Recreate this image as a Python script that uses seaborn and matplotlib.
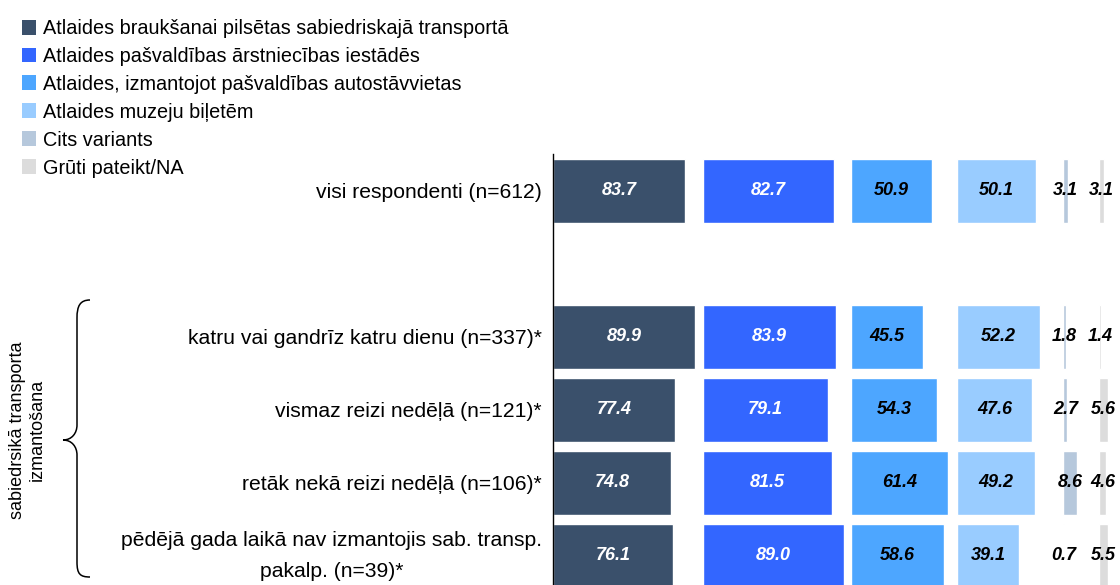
import matplotlib
matplotlib.use("Agg")
import matplotlib.pyplot as plt
from matplotlib.patches import Patch, PathPatch
from matplotlib.path import Path
import pandas as pd
import seaborn as sns

# ---------------- data ----------------
rows = [
    "visi respondenti (n=612)",
    "katru vai gandrīz katru dienu (n=337)*",
    "vismaz reizi nedēļā (n=121)*",
    "retāk nekā reizi nedēļā (n=106)*",
    "pēdējā gada laikā nav izmantojis sab. transp.\npakalp. (n=39)*",
]
gap_row = " "
series_names = [
    "Atlaides braukšanai pilsētas sabiedriskajā transportā",
    "Atlaides pašvaldības ārstniecības iestādēs",
    "Atlaides, izmantojot pašvaldības autostāvvietas",
    "Atlaides muzeju biļetēm",
    "Cits variants",
    "Grūti pateikt/NA",
]
transport = [83.7, 89.9, 77.4, 74.8, 76.1]
medical = [82.7, 83.9, 79.1, 81.5, 89.0]
parking = [50.9, 45.5, 54.3, 61.4, 58.6]
museum = [50.1, 52.2, 47.6, 49.2, 39.1]
other = [3.1, 1.8, 2.7, 8.6, 0.7]
hard_to_say = [3.1, 1.4, 5.6, 4.6, 5.5]
group_label = "sabiedrsikā transporta\nizmantošana"

series_values = [transport, medical, parking, museum, other, hard_to_say]

# ---------------- style / layout ----------------
colors = ["#3A506B", "#3366FF", "#4DA6FF", "#99CCFF", "#B6C8DC", "#DCDCDC"]
label_colors = ["white", "white", "black", "black", "black", "black"]
panel_widths = [95, 93.7, 67.1, 67.1, 22.8, 14]   # data units per panel
px_per_unit = 1.58
W, H = 1120, 585
left_px = 553
top_px, bottom_px = 154.5, 592.5

sns.set_theme(style="white")
plt.rcParams["font.family"] = ["Liberation Sans", "DejaVu Sans"]
plt.rcParams["text.color"] = "black"
plt.rcParams["ytick.color"] = "black"

fig = plt.figure(figsize=(W / 100, H / 100), dpi=100)

order = [rows[0], gap_row] + rows[1:]
x_px = left_px
for i, (name, vals) in enumerate(zip(series_names, series_values)):
    w_px = panel_widths[i] * px_per_unit
    ax = fig.add_axes([x_px / W, 1 - bottom_px / H, w_px / W, (bottom_px - top_px) / H])
    x_px += w_px
    df = pd.DataFrame({"row": rows, "value": vals})
    sns.barplot(data=df, x="value", y="row", order=order, orient="h",
                color=colors[i], saturation=1, width=0.88, errorbar=None, ax=ax)
    ax.set_xlim(0, panel_widths[i])
    ax.set_ylim(5.5, -0.5)
    ax.set_xlabel("")
    ax.set_ylabel("")
    ax.set_xticks([])
    ax.patch.set_alpha(0)
    for s in ["top", "right", "bottom"]:
        ax.spines[s].set_visible(False)
    if i == 0:
        ax.spines["left"].set_color("black")
        ax.spines["left"].set_linewidth(1.0)
        ax.tick_params(axis="y", length=0, pad=8, labelsize=15.2, colors="black")
        for lbl in ax.get_yticklabels():
            if "\n" in lbl.get_text():
                lbl.set_multialignment("center")
                lbl.set_linespacing(1.75)
                lbl.set_verticalalignment("center")
    else:
        ax.spines["left"].set_visible(False)
        ax.set_yticks([])
    for cont in ax.containers:
        ax.bar_label(cont, fmt="%.1f", label_type="center", color=label_colors[i],
                     fontsize=13, fontweight="bold", fontstyle="italic")

# legend
handles = [Patch(facecolor=c, edgecolor="none") for c in colors]
fig.legend(handles, series_names, loc="upper left", bbox_to_anchor=(22 / W, 1 - 19 / H),
           frameon=False, fontsize=14.3, handlelength=0.72, handleheight=0.78,
           handletextpad=0.33, labelspacing=0.45, borderpad=0, borderaxespad=0)

# overlay for brace and group label
ov = fig.add_axes([0, 0, 1, 1], zorder=-1)
ov.set_xlim(0, W)
ov.set_ylim(H, 0)
ov.axis("off")
verts = [(90, 300), (80, 300), (77, 306), (77, 318),
         (77, 425),
         (77, 433), (72, 440), (63, 440),
         (72, 440), (77, 447), (77, 455),
         (77, 562),
         (77, 574), (80, 577), (90, 577)]
codes = [Path.MOVETO, Path.CURVE4, Path.CURVE4, Path.CURVE4,
         Path.LINETO,
         Path.CURVE4, Path.CURVE4, Path.CURVE4,
         Path.CURVE4, Path.CURVE4, Path.CURVE4,
         Path.LINETO,
         Path.CURVE4, Path.CURVE4, Path.CURVE4]
ov.add_patch(PathPatch(Path(verts, codes), facecolor="none", edgecolor="black", lw=1.1))
ov.text(27, 430, group_label, rotation=90, ha="center", va="center",
        multialignment="center", fontsize=13)

fig.savefig("out.png", dpi=100)
